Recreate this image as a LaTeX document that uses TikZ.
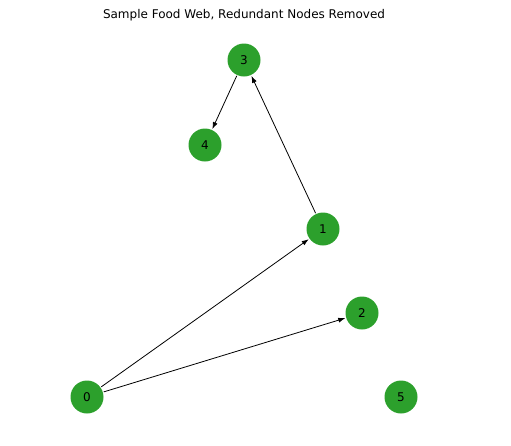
\documentclass[tikz,border=0pt]{standalone}
\usepackage{fontspec}
\setmainfont{DejaVu Sans}
\usepackage{tikz}
\usetikzlibrary{arrows.meta}
\definecolor{webgreen}{HTML}{2CA02C}

\begin{document}
\begin{tikzpicture}[  
      x=1pt, y=-1pt,  
      every node/.style={font=\fontsize{12}{14}\selectfont},  
      species/.style={circle, fill=webgreen, inner sep=0pt, minimum size=33pt, outer sep=1pt},  
      eats/.style={draw, -{Latex[length=7pt, width=5pt]}, line width=0.8pt}  
    ]  
    \useasboundingbox (0,0) rectangle (511,445);  

    % Title  
    \node (title) at (244,15) {Sample Food Web, Redundant Nodes Removed};  

    % Species  
    \node[species] (n3) at (244,60) {3};  
    \node[species] (n4) at (205,145) {4};  
    \node[species] (n1) at (323,229) {1};  
    \node[species] (n2) at (362,313) {2};  
    \node[species] (n0) at (87,397) {0};  
    \node[species] (n5) at (401,397) {5};  

    % Feeding links  
    \draw[eats] (n0) -- (n1);  
    \draw[eats] (n0) -- (n2);  
    \draw[eats] (n1) -- (n3);  
    \draw[eats] (n3) -- (n4);  

  \end{tikzpicture}
\end{document}
